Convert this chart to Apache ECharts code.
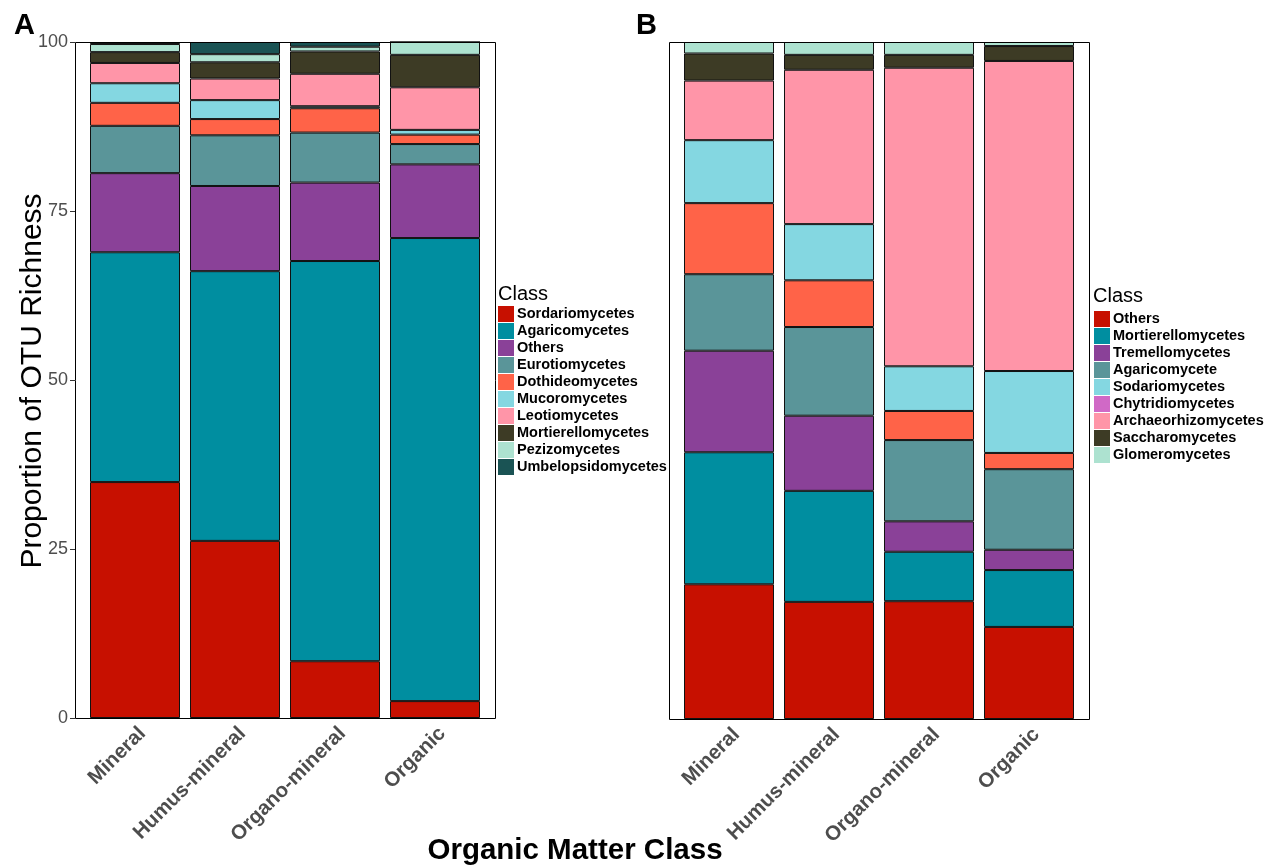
<!DOCTYPE html>
<html>
<head>
<meta charset="utf-8">
<script src="https://cdn.jsdelivr.net/npm/echarts@6/dist/echarts.min.js"></script>
<style>
html,body{margin:0;padding:0;background:#fff;}
#chart{width:1269px;height:866px;}
</style>
</head>
<body>
<div id="chart"></div>
<script>
// ---- Data ----
const categories = ['Mineral', 'Humus-mineral', 'Organo-mineral', 'Organic'];
const yTicks = [0, 25, 50, 75, 100];

// Panel A (bottom to top)
const namesA = ['Sordariomycetes','Agaricomycetes','Others','Eurotiomycetes','Dothideomycetes','Mucoromycetes','Leotiomycetes','Mortierellomycetes','Pezizomycetes','Umbelopsidomycetes'];
const sordariomycetesA   = [34.9, 26.2, 8.4, 2.5];
const agaricomycetesA    = [34.0, 39.9, 59.2, 68.5];
const othersA            = [11.7, 12.6, 11.6, 10.9];
const eurotiomycetesA    = [7.0, 7.5, 7.4, 3.0];
const dothideomycetesA   = [3.4, 2.4, 3.6, 1.4];
const mucoromycetesA     = [2.9, 2.8, 0.3, 0.7];
const leotiomycetesA     = [3.0, 3.2, 4.8, 6.3];
const mortierellomycetesA= [1.6, 2.4, 3.3, 4.8];
const pezizomycetesA     = [1.2, 1.2, 0.7, 1.9];
const umbelopsidomycetesA= [0.3, 1.8, 0.7, 0.0];
const valuesA = [sordariomycetesA, agaricomycetesA, othersA, eurotiomycetesA, dothideomycetesA, mucoromycetesA, leotiomycetesA, mortierellomycetesA, pezizomycetesA, umbelopsidomycetesA];

// Panel B (bottom to top)
const namesB = ['Others','Mortierellomycetes','Tremellomycetes','Agaricomycete','Sodariomycetes','Chytridiomycetes','Archaeorhizomycetes','Saccharomycetes','Glomeromycetes'];
const othersB             = [19.9, 17.3, 17.4, 13.6];
const mortierellomycetesB = [19.5, 16.4, 7.3, 8.4];
const tremellomycetesB    = [15.0, 11.1, 4.5, 3.0];
const agaricomyceteB      = [11.3, 13.1, 12.0, 11.9];
const sodariomycetesB     = [10.5, 6.9, 4.3, 2.4];
const chytridiomycetesB   = [9.3, 8.3, 6.6, 12.1];
const archaeorhizomycetesB= [8.8, 22.8, 44.1, 45.8];
const saccharomycetesB    = [4.0, 2.2, 1.9, 2.2];
const glomeromycetesB     = [1.7, 1.9, 1.9, 0.6];
const valuesB = [othersB, mortierellomycetesB, tremellomycetesB, agaricomyceteB, sodariomycetesB, chytridiomycetesB, archaeorhizomycetesB, saccharomycetesB, glomeromycetesB];

// ---- Colours ----
const colorsA = ['#C71000','#008EA0','#8A4198','#5A9599','#FF6348','#84D7E1','#FF95A8','#3D3B25','#ADE2D0','#1A5354'];
const barColorsB = ['#C71000','#008EA0','#8A4198','#5A9599','#FF6348','#84D7E1','#FF95A8','#3D3B25','#ADE2D0'];
const legendColorsB = ['#C71000','#008EA0','#8A4198','#5A9599','#84D7E1','#D069C6','#FF95A8','#3D3B25','#ADE2D0'];

const FONT = 'Liberation Sans, Arial, sans-serif';
const series = [];
namesA.forEach((n, i) => {
  series.push({
    name: n, type: 'bar', stack: 'A', xAxisIndex: 0, yAxisIndex: 0,
    barWidth: '90%', data: valuesA[i],
    itemStyle: { color: colorsA[i], borderColor: '#111', borderWidth: 1 },
    emphasis: { disabled: true }
  });
});
namesB.forEach((n, i) => {
  series.push({
    name: n, type: 'bar', stack: 'B', xAxisIndex: 1, yAxisIndex: 1,
    barWidth: '90%', data: valuesB[i],
    itemStyle: { color: barColorsB[i], borderColor: '#111', borderWidth: 1 },
    emphasis: { disabled: true }
  });
});

const legendBase = {
  orient: 'vertical', padding: 0, itemWidth: 16, itemHeight: 16, itemGap: 1,
  icon: 'rect', selectedMode: false,
  textStyle: { fontFamily: FONT, fontWeight: 'bold', fontSize: 14.5, color: '#000', padding: [0, 0, 0, -2] }
};

const xAxisBase = {
  type: 'category', data: categories,
  axisLine: { show: false }, axisTick: { show: false },
  axisLabel: { rotate: 45, fontFamily: FONT, fontWeight: 'bold', fontSize: 20.5, color: '#4D4D4D', margin: 5, interval: 0, align: 'right', verticalAlign: 'top' }
};

const option = {
  animation: false,
  backgroundColor: '#fff',
  grid: [
    { left: 85, right: 784, top: 42, bottom: 148 },
    { left: 679, right: 190, top: 42, bottom: 147 }
  ],
  xAxis: [
    Object.assign({ gridIndex: 0 }, xAxisBase),
    Object.assign({ gridIndex: 1 }, xAxisBase)
  ],
  yAxis: [
    { type: 'value', gridIndex: 0, min: yTicks[0], max: yTicks[yTicks.length - 1], interval: 25, offset: 10,
      splitLine: { show: false }, axisLine: { show: false },
      axisTick: { show: true, length: 5, lineStyle: { color: '#333' } },
      axisLabel: { fontFamily: FONT, fontSize: 18, color: '#4D4D4D', margin: 7 } },
    { type: 'value', gridIndex: 1, min: 0, max: 100, interval: 25,
      splitLine: { show: false }, axisLine: { show: false }, axisTick: { show: false }, axisLabel: { show: false } }
  ],
  legend: [
    Object.assign({}, legendBase, {
      left: 498, top: 306,
      data: namesA.map((n, i) => ({ name: n, itemStyle: { color: colorsA[i], borderWidth: 0 } }))
    }),
    Object.assign({}, legendBase, {
      left: 1094, top: 311,
      data: namesB.map((n, i) => ({ name: n, itemStyle: { color: legendColorsB[i], borderWidth: 0 } }))
    })
  ],
  graphic: [
    { type: 'rect', shape: { x: 75.5, y: 42.5, width: 420, height: 676 }, style: { fill: 'none', stroke: '#000', lineWidth: 1 }, z: 10 },
    { type: 'rect', shape: { x: 669.5, y: 42.5, width: 420, height: 677 }, style: { fill: 'none', stroke: '#000', lineWidth: 1 }, z: 10 },
    { type: 'text', left: 498, top: 284, style: { text: 'Class', font: '20px ' + FONT, fill: '#000' } },
    { type: 'text', left: 1093, top: 286, style: { text: 'Class', font: '20px ' + FONT, fill: '#000' } },
    { type: 'text', left: 14, top: 11, style: { text: 'A', font: 'bold 29px ' + FONT, fill: '#000' } },
    { type: 'text', left: 636, top: 11, style: { text: 'B', font: 'bold 29px ' + FONT, fill: '#000' } },
    { type: 'text', x: 575, y: 851, style: { text: 'Organic Matter Class', font: 'bold 29.5px ' + FONT, fill: '#000', textAlign: 'center', textVerticalAlign: 'middle' } },
    { type: 'text', x: 33, y: 381, rotation: Math.PI / 2, style: { text: 'Proportion of OTU Richness', font: '30px ' + FONT, fill: '#000', textAlign: 'center', textVerticalAlign: 'middle' } }
  ],
  series: series
};

const chart = echarts.init(document.getElementById('chart'), null, { renderer: 'canvas' });
chart.setOption(option);
</script>
</body>
</html>
